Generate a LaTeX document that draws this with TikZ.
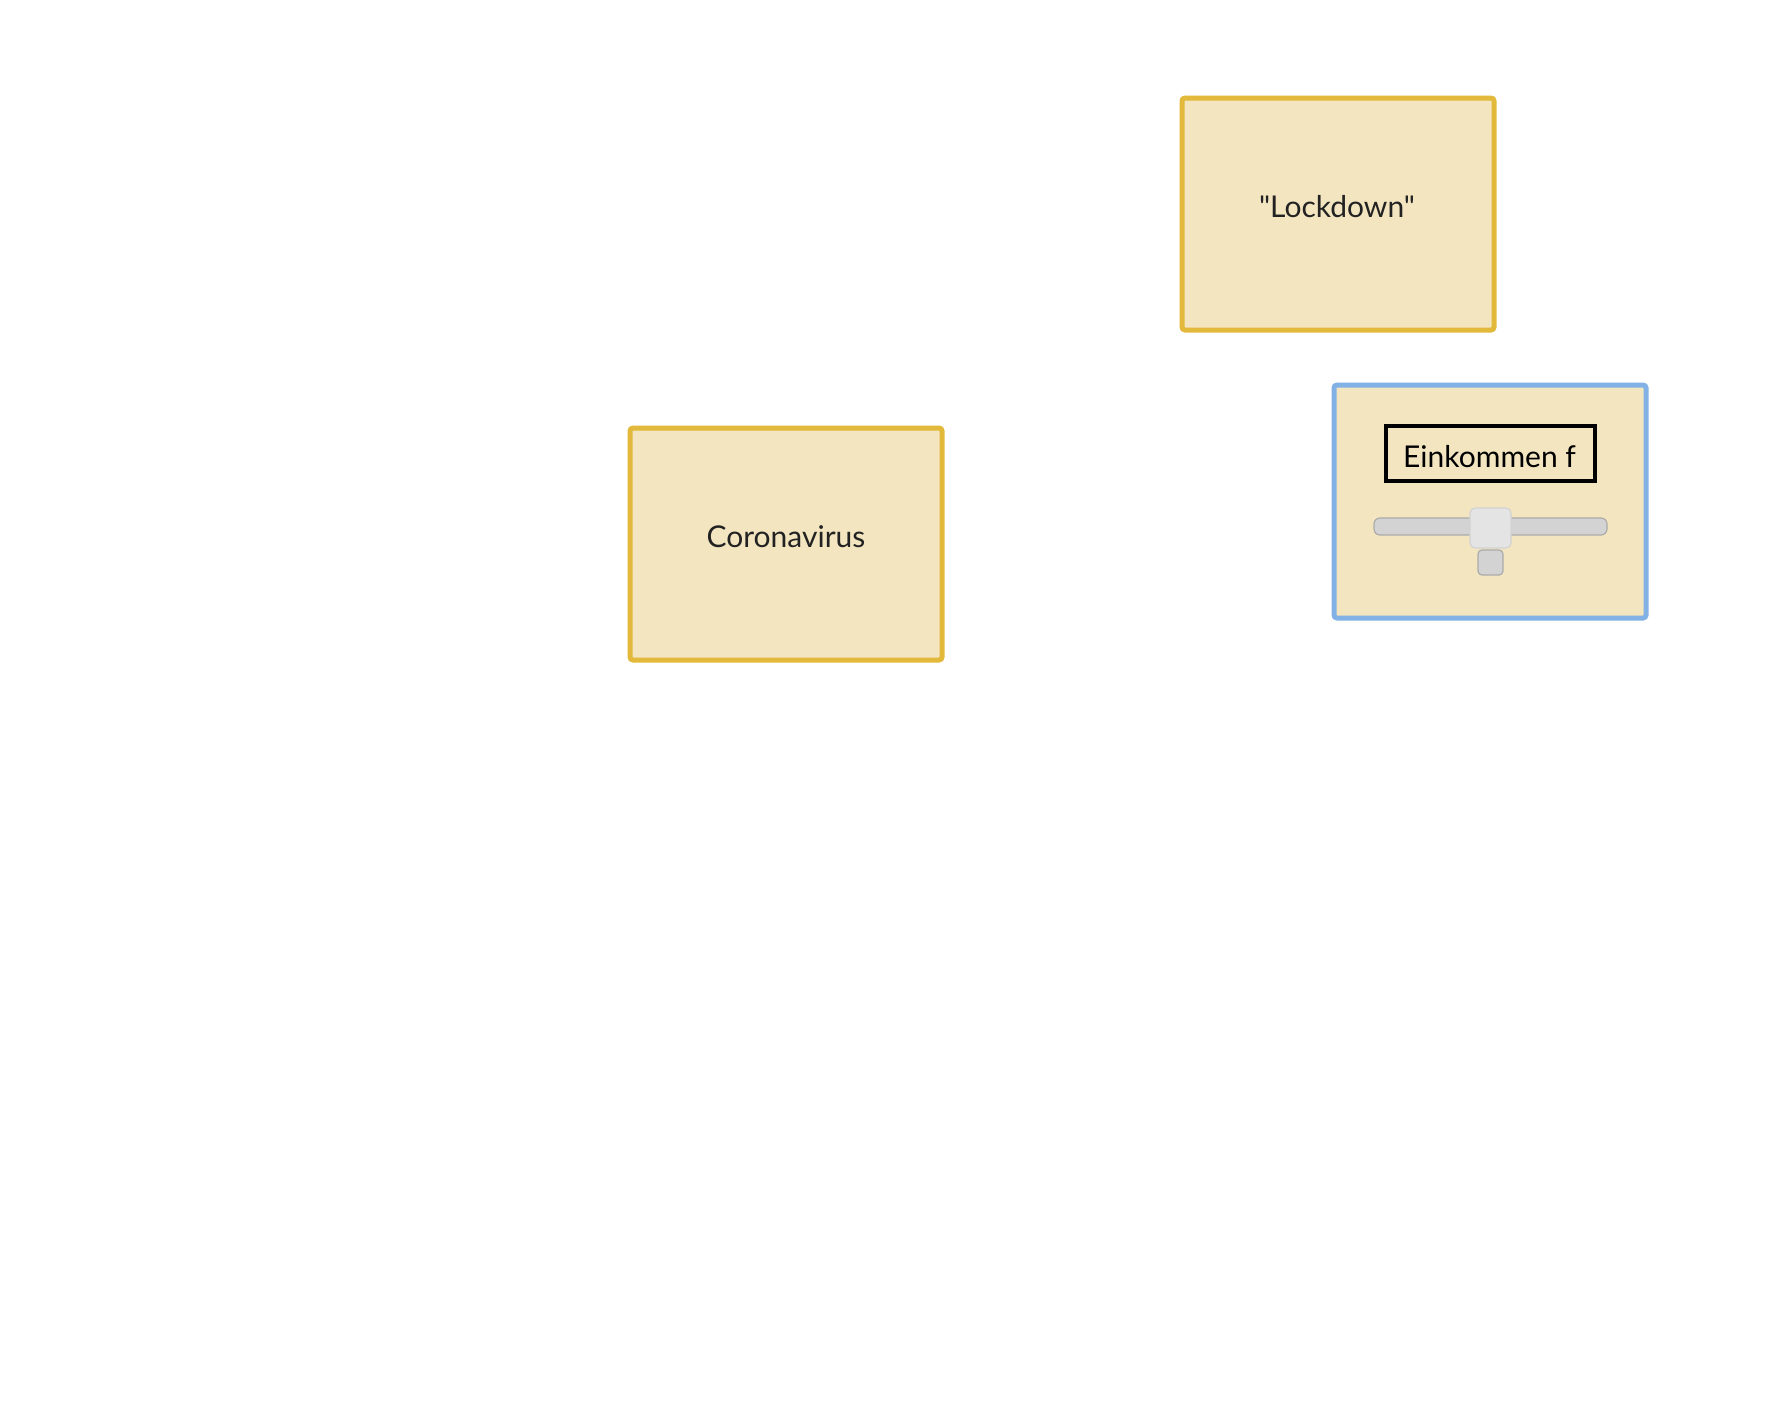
\documentclass[tikz,border=0pt]{standalone}
\usepackage{fontspec}
\setmainfont{Lato}[Ligatures=TeXOff]
\definecolor{boxfill}{HTML}{F2E5BF}
\definecolor{boxgold}{HTML}{E2B93B}
\definecolor{boxblue}{HTML}{82B1E6}
\definecolor{txt}{HTML}{222222}
\definecolor{trackfill}{HTML}{D3D3D3}
\definecolor{trackline}{HTML}{ABABAB}
\definecolor{thumbfill}{HTML}{E4E4E4}
\definecolor{thumbline}{HTML}{D2D2D2}
\tikzset{
  stockbox/.style={draw=boxgold, fill=boxfill, line width=5pt, rounded corners=3pt},
  ctrlbox/.style={draw=boxblue, fill=boxfill, line width=5pt, rounded corners=3pt},
  lbl/.style={text=txt, font=\fontsize{30}{36}\selectfont, inner sep=0pt},
}
\begin{document}
\begin{tikzpicture}[x=1pt,y=-1pt]
\useasboundingbox[fill=white] (0,0) rectangle (1780,1400);

% variable boxes
\draw[stockbox] (630,428) rectangle (942,660);
\node[lbl] (corona) at (786,537) {Coronavirus};

\draw[stockbox] (1182,98) rectangle (1494,330);
\node[lbl] (lockdown) at (1337,207) {"Lockdown"};

% slider control
\draw[ctrlbox] (1334,385) rectangle (1646,618);
\begin{scope}
  \clip (1386,426) rectangle (1595,481);
  \node[lbl, text=black, anchor=west] (einkommen) at (1403,457) {Einkommen f};
\end{scope}
\draw[black, line width=3.5pt, fill=none] (1386,426) rectangle (1595,481);
\draw[fill=trackfill, draw=trackline, line width=1.2pt, rounded corners=6pt] (1374,518) rectangle (1607,535);
\draw[fill=thumbfill, draw=thumbline, line width=1.2pt, rounded corners=5pt] (1470,508) rectangle (1511,548);
\draw[fill=trackfill, draw=trackline, line width=1.2pt, rounded corners=4pt] (1478,550) rectangle (1503,575);
\end{tikzpicture}
\end{document}
